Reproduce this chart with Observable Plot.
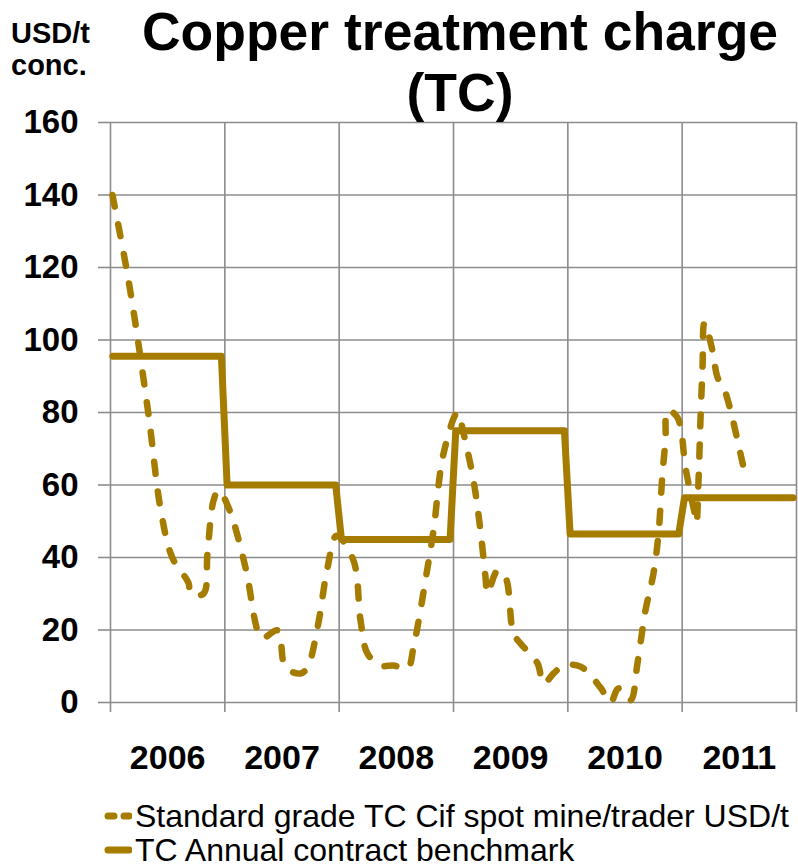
<!DOCTYPE html>
<html>
<head>
<meta charset="utf-8">
<script src="https://cdn.jsdelivr.net/npm/d3@7"></script>
<script src="https://cdn.jsdelivr.net/npm/@observablehq/plot@0.6"></script>
<style>
  html, body { margin: 0; padding: 0; background: #fff; }
  #wrap { position: relative; width: 798px; height: 867px; overflow: hidden; font-family: "Liberation Sans", Arial, sans-serif; }
  #chart { position: absolute; left: 0; top: 0; }
  .title { position: absolute; left: 110px; width: 700px; text-align: center; font-weight: bold; font-size: 53.5px; line-height: 1.1; color: #000; white-space: nowrap; }
  .unit { position: absolute; left: 11px; font-weight: bold; font-size: 29px; line-height: 1; color: #000; }
  .leg { position: absolute; left: 104px; display: flex; align-items: center; font-size: 32px; line-height: 1; color: #000; white-space: nowrap; }
  .leg svg { margin-right: 3px; }
</style>
</head>
<body>
<div id="wrap">
  <div id="chart"></div>
  <div class="unit" style="top:19px">USD/t</div>
  <div class="unit" style="top:51px">conc.</div>
  <div class="title" style="top:3px">Copper treatment charge</div>
  <div class="title" style="top:64px">(TC)</div>
  <div class="leg" style="top:800px">
    <svg width="28" height="12"><line x1="4" y1="6" x2="25" y2="6" stroke="#A57C00" stroke-width="7" stroke-linecap="round" stroke-dasharray="6,10"/></svg>
    <span id="leg1"></span>
  </div>
  <div class="leg" style="top:834px">
    <svg width="28" height="12"><line x1="4" y1="6" x2="25" y2="6" stroke="#A57C00" stroke-width="7" stroke-linecap="round"/></svg>
    <span id="leg2"></span>
  </div>
</div>
<script>
// ---- data ----
const seriesNames = ["Standard grade TC Cif spot mine/trader USD/t", "TC Annual contract benchmark"];
const yearLabels = [2006, 2007, 2008, 2009, 2010, 2011];
const yTicks = [0, 20, 40, 60, 80, 100, 120, 140, 160];

// spot TC (time in decimal years, value USD/t)
const spotT = [2006.017, 2006.16, 2006.33, 2006.44, 2006.54, 2006.682, 2006.70, 2006.813, 2006.848, 2006.901, 2006.945,
  2007.032, 2007.181, 2007.286, 2007.329, 2007.461, 2007.531, 2007.662, 2007.723, 2007.811, 2007.898, 2007.977,
  2008.125, 2008.187, 2008.248, 2008.362, 2008.475, 2008.598, 2008.650, 2008.773, 2008.825, 2008.913, 2009.035,
  2009.088, 2009.175, 2009.236, 2009.280, 2009.297, 2009.385, 2009.455, 2009.525, 2009.586, 2009.735, 2009.787,
  2009.875, 2009.962, 2010.111, 2010.286, 2010.373, 2010.443, 2010.548, 2010.609, 2010.679, 2010.749, 2010.793,
  2010.828, 2010.854, 2010.872, 2010.959, 2011.029, 2011.073, 2011.117, 2011.126, 2011.143, 2011.16, 2011.178, 2011.195,
  2011.265, 2011.309, 2011.362, 2011.423, 2011.484, 2011.537];
const spotV = [140, 116, 80, 53, 40, 33, 30, 30, 41, 55.7, 58.5,
  53.8, 37.2, 19.9, 17.7, 19.9, 9.7, 8, 9.7, 20.7, 37.2, 46,
  39.2, 22.6, 13.5, 10.2, 10.2, 9.4, 15.2, 37.2, 47.4, 68.7, 80,
  74.2, 61.2, 47.4, 34.5, 30.1, 36.4, 34.5, 19, 16.3, 10.8, 5.2,
  8, 10.2, 9.9, 4.1, 0, 3.9, 0.6, 10.8, 25.4, 35.6, 46.6,
  63.2, 72.3, 80.6, 78.6, 64.8, 57.7, 51, 49.5, 61.2, 77.8, 92.4, 104.8,
  97.1, 89.7, 86.9, 80.6, 72.3, 64.8];

// annual contract benchmark
const benchYears = [2006, 2007, 2008, 2009, 2010, 2011];
const benchValues = [95.5, 60, 45, 75, 46.5, 56.5];

// ---- build tables ----
const spot = spotT.map((t, i) => ({t, v: spotV[i]}));
const bench = benchYears.flatMap((y, i) => [
  {t: y + 0.02, v: benchValues[i]},
  {t: y + 0.97, v: benchValues[i]}
]);
const color = "#A57C00";
const grid = "#8c8c8c";
const boundaries = [...yearLabels, yearLabels[yearLabels.length - 1] + 1];

document.getElementById("leg1").textContent = seriesNames[0];
document.getElementById("leg2").textContent = seriesNames[1];

const chart = Plot.plot({
  width: 798,
  height: 790,
  marginLeft: 110,
  marginRight: 2,
  marginTop: 122,
  marginBottom: 88,
  style: {fontFamily: '"Liberation Sans", Arial, sans-serif', background: "white", color: "#000"},
  x: {domain: [2006, 2012]},
  y: {domain: [0, 160]},
  marks: [
    Plot.gridY(yTicks, {stroke: grid, strokeOpacity: 1, strokeWidth: 1.6}),
    Plot.gridX(boundaries, {stroke: grid, strokeOpacity: 1, strokeWidth: 1.6}),
    Plot.axisY(yTicks, {tickSize: 12, stroke: grid, strokeWidth: 1.6, tickPadding: 20, fontSize: 33, fontWeight: "bold", label: null, fill: "#000"}),
    Plot.axisX(boundaries, {tickSize: 10, stroke: grid, strokeWidth: 1.6, tickFormat: () => "", label: null}),
    Plot.axisX(yearLabels.map(y => y + 0.5), {tickSize: 0, tickPadding: 42, fontSize: 34, fontWeight: "bold", tickFormat: d => String(Math.floor(d)), label: null, fill: "#000"}),
    Plot.line(bench, {x: "t", y: "v", stroke: color, strokeWidth: 7, strokeLinejoin: "round", strokeLinecap: "round"}),
    Plot.line(spot, {x: "t", y: "v", stroke: color, strokeWidth: 6.5, strokeLinejoin: "round", strokeLinecap: "round", strokeDasharray: "12,18", curve: "catmull-rom"})
  ]
});
document.getElementById("chart").appendChild(chart);
</script>
</body>
</html>
